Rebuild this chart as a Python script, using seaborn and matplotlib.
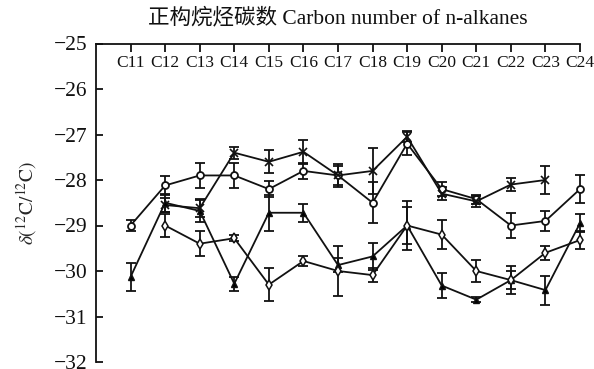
import numpy as np
import pandas as pd
import matplotlib
matplotlib.use("Agg")
import matplotlib.pyplot as plt
import seaborn as sns

# n-alkane carbon numbers
carbon = list(range(11, 25))
tick_labels = [f"C{c}" for c in carbon]

# mean delta values and standard deviations of four sample series
s1_vals = [-29.0, -28.12, -27.9, -27.9, -28.2, -27.8, -27.9, -28.5, -27.2, -28.2, -28.42, -29.0, -28.9, -28.2]
s1_err = [0.12, 0.2, 0.27, 0.27, 0.17, 0.17, 0.25, 0.45, 0.25, 0.15, 0.1, 0.27, 0.22, 0.3]

s2_carbon = list(range(12, 24))
s2_vals = [-28.55, -28.62, -27.4, -27.6, -27.38, -27.9, -27.8, -27.05, -28.3, -28.47, -28.1, -28.0]
s2_err = [0.15, 0.2, 0.13, 0.25, 0.26, 0.2, 0.5, 0.12, 0.15, 0.12, 0.14, 0.31]

s3_vals = [-30.13, -28.5, -28.68, -30.28, -28.72, -28.72, -29.87, -29.68, -29.0, -30.32, -30.63, -30.2, -30.42, -28.95]
s3_err = [0.31, 0.2, 0.25, 0.15, 0.4, 0.2, 0.15, 0.3, 0.4, 0.28, 0.05, 0.2, 0.32, 0.2]

s4_carbon = list(range(12, 25))
s4_vals = [-29.0, -29.4, -29.28, -30.3, -29.78, -30.0, -30.09, -29.0, -29.2, -30.0, -30.2, -29.6, -29.32]
s4_err = [0.25, 0.28, 0.07, 0.37, 0.1, 0.55, 0.15, 0.53, 0.32, 0.25, 0.3, 0.15, 0.2]

series = [
    ("s1", carbon, s1_vals, s1_err, dict(marker="o", mfc="white", ms=5, mew=1.3)),
    ("s2", s2_carbon, s2_vals, s2_err, dict(marker="x", mfc="black", ms=6, mew=1.2)),
    ("s3", carbon, s3_vals, s3_err, dict(marker="^", mfc="black", ms=4.5, mew=1.0)),
    ("s4", s4_carbon, s4_vals, s4_err, dict(marker="d", mfc="white", ms=5, mew=1.1)),
]

sns.set_theme(style="ticks")
plt.rcParams["font.family"] = ["Liberation Serif", "Noto Sans CJK SC"]
plt.rcParams["mathtext.fontset"] = "stix"
plt.rcParams["axes.unicode_minus"] = True

fig = plt.figure(figsize=(5.94, 3.69), dpi=100)
ax = fig.add_axes([96 / 594, 1 - 362 / 369, (580 - 96) / 594, (362 - 43.5) / 369])

ink = "#111111"
for name, xs, ys, es, mk in series:
    df = pd.DataFrame({"carbon": xs, "delta": ys})
    ax.errorbar(xs, ys, yerr=es, fmt="none", ecolor=ink, elinewidth=1.3,
                capsize=3.6, capthick=1.3, clip_on=False, zorder=2)
    sns.lineplot(data=df, x="carbon", y="delta", ax=ax, color=ink, lw=1.3,
                 marker=mk["marker"], markersize=mk["ms"],
                 markerfacecolor=mk["mfc"], markeredgecolor=ink,
                 markeredgewidth=mk["mew"], clip_on=False, zorder=3)

ax.set_xlim(10, 24)
ax.set_ylim(-32, -25)
ax.set_yticks(np.arange(-32, -24, 1))
ax.set_xticks(carbon)
ax.set_xticklabels(tick_labels)
ax.set_xlabel("")
ax.set_ylabel(r"$\delta(^{12}\mathrm{C}/^{12}\mathrm{C})$", fontsize=14, labelpad=11)

for side in ("right", "bottom"):
    ax.spines[side].set_visible(False)
for side in ("left", "top"):
    ax.spines[side].set_linewidth(1.3)
    ax.spines[side].set_color(ink)

ax.xaxis.tick_top()
ax.tick_params(axis="x", top=True, bottom=False, labeltop=True, labelbottom=False,
               direction="in", length=6, width=1.3, color=ink,
               pad=-19.5, labelsize=12.5, labelcolor=ink)
ax.tick_params(axis="y", direction="in", length=5, width=1.3, color=ink,
               pad=6, labelsize=15.5, labelcolor=ink)

fig.text((96 + 580) / 2 / 594, 1 - 18 / 369, "正构烷烃碳数 Carbon number of n-alkanes",
         ha="center", va="center", fontsize=15.5, color=ink)

fig.savefig("out.png", dpi=100)
